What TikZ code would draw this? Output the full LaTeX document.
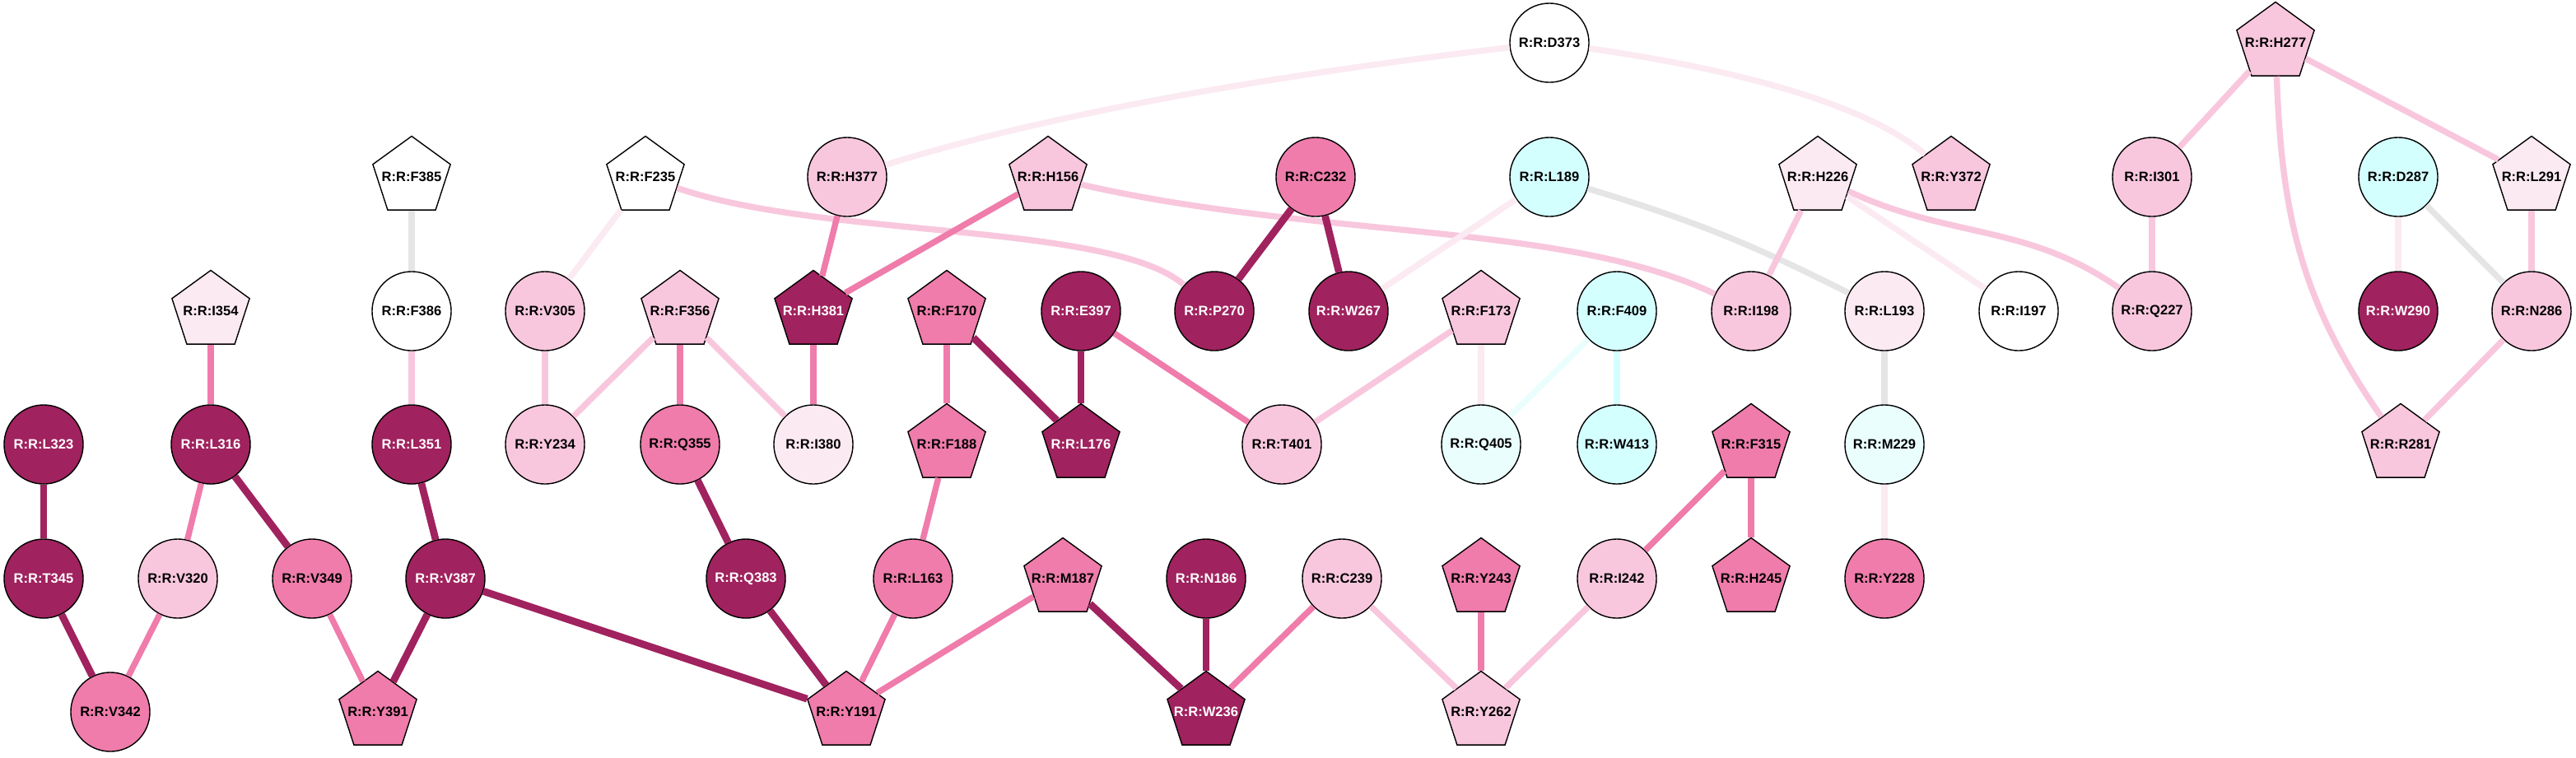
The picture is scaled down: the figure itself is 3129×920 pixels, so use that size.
\documentclass[tikz,border=0pt]{standalone}
\usepackage{fontspec}
\usepackage{tikz}
\usetikzlibrary{shapes.geometric}
\newfontfamily\resfam{Liberation Sans}
\newcommand{\resfont}{\resfam\bfseries\fontsize{4.7}{5.5}\selectfont}
\definecolor{dk}{RGB}{160,34,94}
\definecolor{md}{RGB}{239,124,171}
\definecolor{lt}{RGB}{248,199,221}
\definecolor{pl}{RGB}{251,234,242}
\definecolor{cy}{RGB}{212,255,255}
\definecolor{pc}{RGB}{234,254,253}
\definecolor{gr}{RGB}{229,229,229}

\begin{document}
\begin{tikzpicture}[x=0.01cm, y=-0.01cm, every node/.style={font=\resfont},
    n/.style={circle, draw, line width=0.4pt, inner sep=0pt, minimum size=0.96cm, fill=#1},
    p/.style={regular polygon, regular polygon sides=5, draw, line width=0.4pt, inner sep=0pt, minimum size=0.99cm, fill=#1},
    wt/.style={text=white},
    lnk/.style={draw=#1, line width=2.1pt},
    hv/.style={draw=dk, line width=2.5pt}]
            \useasboundingbox (0,0) rectangle (3129,920);

            % top row
            \node[n={white}] (d373) at (1882, 52) {R:R:D373};
            \node[p={lt}, label=center:{R:R:H277}] (h277) at (2764, 52) {};

            \node[p={white}, label=center:{R:R:F385}] (f385) at (500, 215) {};
            \node[p={white}, label=center:{R:R:F235}] (f235) at (784, 215) {};
            \node[n={lt}] (h377) at (1029, 215) {R:R:H377};
            \node[p={lt}, label=center:{R:R:H156}] (h156) at (1273, 215) {};
            \node[n={md}] (c232) at (1598, 215) {R:R:C232};
            \node[n={cy}] (l189) at (1882, 215) {R:R:L189};
            \node[p={pl}, label=center:{R:R:H226}] (h226) at (2208, 215) {};
            \node[p={lt}, label=center:{R:R:Y372}] (y372) at (2370, 215) {};
            \node[n={lt}] (i301) at (2614, 215) {R:R:I301};
            \node[n={cy}] (d287) at (2913, 215) {R:R:D287};
            \node[p={pl}, label=center:{R:R:L291}] (l291) at (3075, 215) {};

            \node[p={pl}, label=center:{R:R:I354}] (i354) at (256, 378) {};
            \node[n={white}] (f386) at (500, 378) {R:R:F386};
            \node[n={lt}] (v305) at (662, 378) {R:R:V305};
            \node[p={lt}, label=center:{R:R:F356}] (f356) at (826, 378) {};
            \node[p={dk}, label={[wt]center:{R:R:H381}}] (h381) at (988, 378) {};
            \node[p={md}, label=center:{R:R:F170}] (f170) at (1150, 378) {};
            \node[n={dk}, wt] (e397) at (1313, 378) {R:R:E397};
            \node[n={dk}, wt] (p270) at (1475, 378) {R:R:P270};
            \node[n={dk}, wt] (w267) at (1638, 378) {R:R:W267};
            \node[p={lt}, label=center:{R:R:F173}] (f173) at (1799, 378) {};
            \node[n={cy}] (f409) at (1964, 378) {R:R:F409};
            \node[n={lt}] (i198) at (2127, 378) {R:R:I198};
            \node[n={pl}] (l193) at (2289, 378) {R:R:L193};
            \node[n={white}] (i197) at (2452, 378) {R:R:I197};
            \node[n={lt}] (q227) at (2614, 378) {R:R:Q227};
            \node[n={dk}, wt] (w290) at (2913, 378) {R:R:W290};
            \node[n={lt}] (n286) at (3075, 378) {R:R:N286};

            \node[n={dk}, wt] (l323) at (53, 540) {R:R:L323};
            \node[n={dk}, wt] (l316) at (256, 540) {R:R:L316};
            \node[n={dk}, wt] (l351) at (500, 540) {R:R:L351};
            \node[n={lt}] (y234) at (662, 540) {R:R:Y234};
            \node[n={md}] (q355) at (826, 540) {R:R:Q355};
            \node[n={pl}] (i380) at (988, 540) {R:R:I380};
            \node[p={md}, label=center:{R:R:F188}] (f188) at (1150, 540) {};
            \node[p={dk}, label={[wt]center:{R:R:L176}}] (l176) at (1313, 540) {};
            \node[n={lt}] (t401) at (1557, 540) {R:R:T401};
            \node[n={pc}] (q405) at (1799, 540) {R:R:Q405};
            \node[n={cy}] (w413) at (1964, 540) {R:R:W413};
            \node[p={md}, label=center:{R:R:F315}] (f315) at (2127, 540) {};
            \node[n={pc}] (m229) at (2289, 540) {R:R:M229};
            \node[p={lt}, label=center:{R:R:R281}] (r281) at (2916, 540) {};

            \node[n={dk}, wt] (t345) at (53, 703) {R:R:T345};
            \node[n={lt}] (v320) at (216, 703) {R:R:V320};
            \node[n={md}] (v349) at (379, 703) {R:R:V349};
            \node[n={dk}, wt] (v387) at (541, 703) {R:R:V387};
            \node[n={dk}, wt] (q383) at (906, 703) {R:R:Q383};
            \node[n={md}] (l163) at (1109, 703) {R:R:L163};
            \node[p={md}, label=center:{R:R:M187}] (m187) at (1291, 703) {};
            \node[n={dk}, wt] (n186) at (1465, 703) {R:R:N186};
            \node[n={lt}] (c239) at (1630, 703) {R:R:C239};
            \node[p={md}, label=center:{R:R:Y243}] (y243) at (1799, 703) {};
            \node[n={lt}] (i242) at (1964, 703) {R:R:I242};
            \node[p={md}, label=center:{R:R:H245}] (h245) at (2127, 703) {};
            \node[n={md}] (y228) at (2289, 703) {R:R:Y228};

            \node[n={md}] (v342) at (134, 865) {R:R:V342};
            \node[p={md}, label=center:{R:R:Y391}] (y391) at (459, 865) {};
            \node[p={md}, label=center:{R:R:Y191}] (y191) at (1028, 865) {};
            \node[p={dk}, label={[wt]center:{R:R:W236}}] (w236) at (1465, 865) {};
            \node[p={lt}, label=center:{R:R:Y262}] (y262) at (1799, 865) {};

            % curved links
            \draw[lnk=pl] (d373) .. controls (1600,85) and (1300,130) .. (h377);
            \draw[lnk=pl] (d373) .. controls (2080,80) and (2260,120) .. (y372);
            \draw[lnk=lt] (h277) edge[out=-88, in=125] (r281);
            \draw[lnk=lt] (h226) edge[out=-25, in=145] (q227);
            \draw[lnk=gr] (l189) edge[bend left=5] (l193);
            \draw[lnk=lt] (h156) .. controls (1600,290) and (1900,270) .. (i198);
            \draw[lnk=lt] (f235) .. controls (1000,290) and (1350,270) .. (p270);

            % straight links
            \draw[lnk=lt] (h277) edge (i301);
            \draw[lnk=lt] (h277) edge (l291);
            \draw[lnk=lt] (i301) edge (q227);
            \draw[lnk=lt] (l291) edge (n286);
            \draw[lnk=pl] (d287) edge (w290);
            \draw[lnk=gr] (d287) edge (n286);
            \draw[lnk=lt] (n286) edge (r281);
            \draw[lnk=lt] (h226) edge (i198);
            \draw[lnk=pl] (h226) edge (i197);
            \draw[lnk=pl] (l189) edge (w267);
            \draw[lnk=pl] (f235) edge (v305);
            \draw[lnk=gr] (f385) edge (f386);
            \draw[lnk=lt] (f386) edge (l351);
            \draw[lnk=md] (i354) edge (l316);
            \draw[hv] (l323) edge (t345);
            \draw[lnk=md] (l316) edge (v320);
            \draw[hv] (l316) edge (v349);
            \draw[hv] (t345) edge (v342);
            \draw[lnk=md] (v320) edge (v342);
            \draw[lnk=md] (v349) edge (y391);
            \draw[hv] (l351) edge (v387);
            \draw[hv] (v387) edge (y391);
            \draw[hv] (v387) edge (y191);
            \draw[lnk=lt] (v305) edge (y234);
            \draw[lnk=lt] (f356) edge (y234);
            \draw[lnk=md] (f356) edge (q355);
            \draw[lnk=lt] (f356) edge (i380);
            \draw[hv] (q355) edge (q383);
            \draw[hv] (q383) edge (y191);
            \draw[lnk=md] (h377) edge (h381);
            \draw[lnk=md] (h156) edge (h381);
            \draw[lnk=md] (h381) edge (i380);
            \draw[lnk=md] (f170) edge (f188);
            \draw[hv] (f170) edge (l176);
            \draw[hv] (e397) edge (l176);
            \draw[lnk=md] (e397) edge (t401);
            \draw[lnk=md] (f188) edge (l163);
            \draw[lnk=md] (l163) edge (y191);
            \draw[lnk=md] (m187) edge (y191);
            \draw[hv] (m187) edge (w236);
            \draw[hv] (n186) edge (w236);
            \draw[lnk=md] (c239) edge (w236);
            \draw[hv] (c232) edge (p270);
            \draw[hv] (c232) edge (w267);
            \draw[lnk=lt] (f173) edge (t401);
            \draw[lnk=pl] (f173) edge (q405);
            \draw[lnk=pc] (f409) edge (q405);
            \draw[lnk=cy] (f409) edge (w413);
            \draw[lnk=gr] (l193) edge (m229);
            \draw[lnk=pl] (m229) edge (y228);
            \draw[lnk=md] (f315) edge (i242);
            \draw[lnk=md] (f315) edge (h245);
            \draw[lnk=lt] (c239) edge (y262);
            \draw[lnk=md] (y243) edge (y262);
            \draw[lnk=lt] (i242) edge (y262);
        \end{tikzpicture}
\end{document}
